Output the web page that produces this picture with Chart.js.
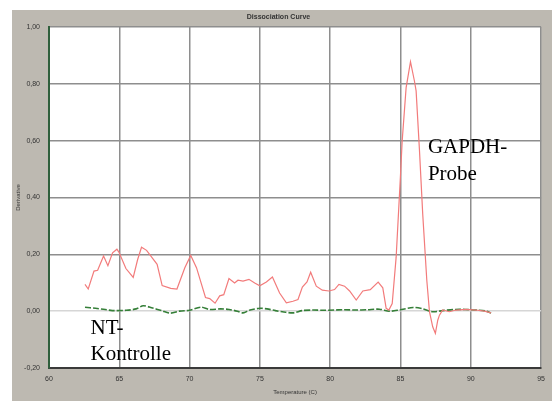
<!DOCTYPE html>
<html>
<head>
<meta charset="utf-8">
<script src="https://cdn.jsdelivr.net/npm/chart.js@4.4.1/dist/chart.umd.min.js"></script>
<style>
  html, body { margin: 0; padding: 0; background: #fff; }
  canvas { display: block; }
</style>
</head>
<body>
<canvas id="curve" width="552" height="401"></canvas>
<script>
// GAPDH-Probe (red) – temperature / derivative
const probeTemps = [62.56, 62.79, 63.2, 63.46, 63.88, 64.19, 64.52, 64.83, 64.97, 65.47, 65.99, 66.3, 66.58, 66.94,
  67.69, 68.05, 68.66, 69.1, 69.66, 70.08, 70.49, 71.13, 71.43, 71.81, 72.14, 72.43, 72.8, 73.2, 73.44, 73.8,
  74.22, 74.63, 74.99, 75.46, 75.89, 76.4, 76.88, 77.35, 77.71, 78.02, 78.35, 78.61, 79.01, 79.44, 79.91, 80.31,
  80.62, 81.02, 81.38, 81.85, 82.32, 82.85, 83.41, 83.74, 83.98, 84.17, 84.41, 84.69, 84.98, 85.12, 85.4, 85.71,
  85.99, 86.11, 86.35, 86.58, 86.87, 87.06, 87.29, 87.48, 87.65, 87.77, 88.0, 88.47, 88.95, 89.66, 90.36, 90.97, 91.44];
const probeValues = [0.094, 0.078, 0.141, 0.144, 0.194, 0.160, 0.205, 0.218, 0.208, 0.150, 0.119, 0.181, 0.225, 0.214,
  0.165, 0.090, 0.080, 0.078, 0.153, 0.196, 0.153, 0.048, 0.044, 0.028, 0.054, 0.058, 0.115, 0.099, 0.109, 0.106,
  0.112, 0.099, 0.089, 0.103, 0.120, 0.064, 0.029, 0.035, 0.041, 0.085, 0.103, 0.137, 0.088, 0.074, 0.071, 0.076,
  0.094, 0.088, 0.071, 0.039, 0.071, 0.076, 0.102, 0.082, 0.010, 0.004, 0.027, 0.190, 0.460, 0.600, 0.787, 0.878,
  0.810, 0.775, 0.565, 0.342, 0.109, -0.002, -0.055, -0.078, -0.032, -0.014, 0.004, -0.002, 0.004, 0.006, 0.004, 0.000, -0.006];

// NT-Kontrolle (green)
const ntcTemps = [62.56, 63.3, 64.0, 64.5, 65.5, 66.2, 66.7, 67.3, 68.0, 68.6, 69.3, 70.0, 70.8, 71.4, 72.2, 72.8,
  73.4, 73.8, 74.3, 75.0, 75.5, 76.1, 76.7, 77.4, 78.0, 78.8, 79.5, 80.3, 81.0, 81.8, 82.6, 83.5, 84.2, 84.9,
  85.9, 86.6, 87.3, 88.0, 88.9, 89.6, 90.4, 91.0, 91.44];
const ntcValues = [0.014, 0.010, 0.006, 0.002, 0.003, 0.008, 0.019, 0.012, 0.002, -0.007, 0.000, 0.003, 0.014, 0.006, 0.008, 0.006,
  0.000, -0.006, 0.004, 0.010, 0.008, 0.002, -0.003, -0.006, 0.002, 0.004, 0.003, 0.004, 0.005, 0.004, 0.005, 0.007, 0.000, 0.004,
  0.013, 0.008, -0.002, 0.002, 0.006, 0.006, 0.004, 0.001, -0.006];

const xTicks = [60, 65, 70, 75, 80, 85, 90, 95];
const yTicks = [-0.2, 0, 0.2, 0.4, 0.6, 0.8, 1.0];

const toPoints = (xs, ys) => xs.map((x, i) => ({ x: x, y: ys[i] }));

// gray panel + white plot area, and the two hand labels
const backdrop = {
  id: 'backdrop',
  beforeDraw(chart) {
    const c = chart.ctx, a = chart.chartArea;
    c.save();
    c.fillStyle = '#fff';
    c.fillRect(0, 0, chart.width, chart.height);
    c.fillStyle = '#bdb9b1';
    c.fillRect(12, 10, chart.width - 12, chart.height - 10);
    c.fillStyle = '#fff';
    c.fillRect(a.left, a.top, a.right - a.left, a.bottom - a.top);
    c.restore();
  },
  afterDraw(chart) {
    const c = chart.ctx, xs = chart.scales.x, ys = chart.scales.y;
    c.save();
    c.fillStyle = '#000';
    c.font = '21px "Liberation Serif", "Times New Roman", serif';
    c.textBaseline = 'alphabetic';
    c.fillText('GAPDH-', xs.getPixelForValue(86.95), ys.getPixelForValue(0.555));
    c.fillText('Probe', xs.getPixelForValue(86.95), ys.getPixelForValue(0.46));
    c.fillText('NT-', xs.getPixelForValue(62.95), ys.getPixelForValue(-0.08));
    c.fillText('Kontrolle', xs.getPixelForValue(62.95), ys.getPixelForValue(-0.173));
    c.restore();
  }
};

const smallFont = { family: '"Liberation Sans", Arial, sans-serif', size: 7 };

new Chart(document.getElementById('curve'), {
  type: 'line',
  data: {
    datasets: [{
      label: 'GAPDH-Probe',
      data: toPoints(probeTemps, probeValues),
      borderColor: '#f27b7b',
      borderWidth: 1.2,
      pointRadius: 0,
      tension: 0
    }, {
      label: 'NT-Kontrolle',
      data: toPoints(ntcTemps, ntcValues),
      borderColor: '#357f38',
      borderWidth: 1.6,
      borderDash: [6, 2],
      pointRadius: 0,
      tension: 0.3
    }]
  },
  options: {
    responsive: false,
    animation: false,
    layout: { padding: { left: 15, top: 10, right: 10, bottom: 5 } },
    scales: {
      x: {
        type: 'linear',
        min: 60,
        max: 95,
        afterBuildTicks: s => { s.ticks = xTicks.map(v => ({ value: v })); },
        afterFit: s => { s.height = 28; },
        ticks: { color: '#333', font: smallFont, padding: 7, maxRotation: 0 },
        grid: { color: '#8e8e8e', lineWidth: 1.5, drawTicks: false },
        border: { color: '#3a3a3a', width: 2 },
        title: { display: true, text: 'Temperature (C)', color: '#333', font: { family: smallFont.family, size: 6 }, padding: { top: 2, bottom: 0 } }
      },
      y: {
        min: -0.2,
        max: 1.0,
        afterBuildTicks: s => { s.ticks = yTicks.map(v => ({ value: v })); },
        afterFit: s => { s.width = 34; },
        ticks: {
          color: '#333',
          font: smallFont,
          padding: 9,
          callback: v => v.toFixed(2).replace('.', ',')
        },
        grid: {
          color: ctx => (ctx.tick && Math.abs(ctx.tick.value) < 1e-9) ? '#d6d6d6' : '#8e8e8e',
          lineWidth: 1.5,
          drawTicks: false
        },
        border: { color: '#2f5f3c', width: 2 },
        title: { display: true, text: 'Derivative', color: '#333', font: { family: smallFont.family, size: 6 }, padding: 0 }
      }
    },
    plugins: {
      legend: { display: false },
      tooltip: { enabled: false },
      title: {
        display: true,
        text: 'Dissociation Curve',
        color: '#333',
        font: { family: smallFont.family, size: 7 },
        padding: { top: 3, bottom: 5.6 }
      }
    }
  },
  plugins: [backdrop]
});
</script>
</body>
</html>
